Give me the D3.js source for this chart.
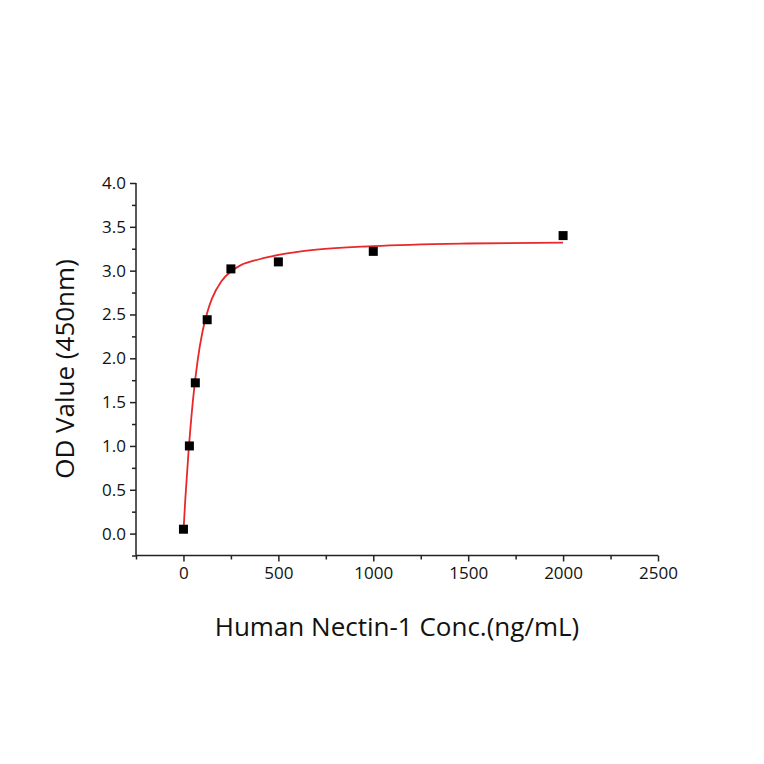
<!DOCTYPE html><html><head><meta charset="utf-8"><script src="https://cdn.jsdelivr.net/npm/d3@7"></script>
<style>body{margin:0;background:#fff}text{font-family:"Open Sans",sans-serif}</style></head><body><svg id="c" width="764" height="764"></svg>
<script>
const concs=[0,31.25,62.5,125,250,500,1000,2000];
const ods=[0.05,1.0,1.72,2.44,3.02,3.1,3.22,3.4];
const fitX=[0,10,25,50,75,100,125,150,200,250,300,400,500,700,1000,1500,2000];
const fitY=[0.02,0.4,0.88,1.52,1.98,2.3,2.52,2.68,2.88,2.99,3.06,3.13,3.18,3.24,3.28,3.31,3.32];
const xTicks=[0,500,1000,1500,2000,2500];
const yTicks=[0,0.5,1,1.5,2,2.5,3,3.5,4];
const svg=d3.select("#c");
const x=d3.scaleLinear().domain([-250,2500]).range([136,658]);
const y=d3.scaleLinear().domain([-0.25,4]).range([555.5,183]);
const g=svg.append("g");
const ax=g.append("g").attr("transform","translate(0,555.5)").call(d3.axisBottom(x).tickValues(xTicks).tickSize(6).tickPadding(5).tickFormat(d3.format("d")));
g.append("g").attr("transform","translate(0,555.5)").call(d3.axisBottom(x).tickValues(d3.range(-250,2500,500)).tickSize(4).tickFormat("")).select(".domain").remove();
const ay=g.append("g").attr("transform","translate(136,0)").call(d3.axisLeft(y).tickValues(yTicks).tickSize(6).tickPadding(4).tickFormat(d3.format(".1f")));
g.append("g").attr("transform","translate(136,0)").call(d3.axisLeft(y).tickValues(d3.range(-0.25,4,0.5)).tickSize(4).tickFormat("")).select(".domain").remove();
svg.selectAll(".domain").attr("stroke","#222").attr("stroke-width",1.5);
svg.selectAll(".tick line").attr("stroke","#222").attr("stroke-width",1.5);
svg.selectAll(".tick text").attr("font-size",17).attr("fill","#111").style("font-family","Open Sans");
ax.select(".domain").attr("d",`M136,0H658`);
ay.select(".domain").attr("d",`M0,183V555.5`);
g.append("path").datum(fitX.map((d,i)=>[d,fitY[i]])).attr("fill","none").attr("stroke","#e8282a").attr("stroke-width",1.8)
 .attr("d",d3.line().x(d=>x(d[0])).y(d=>y(d[1])).curve(d3.curveMonotoneX));
g.selectAll("rect.p").data(concs).join("rect").attr("x",(d)=>x(d)-4.5).attr("y",(d,i)=>y(ods[i])-4.5).attr("width",9).attr("height",9).attr("fill","#000");
svg.append("text").attr("x",397).attr("y",636).attr("text-anchor","middle").attr("font-size",26).attr("fill","#111").text("Human Nectin-1 Conc.(ng/mL)");
svg.append("text").attr("transform","translate(74,369) rotate(-90)").attr("text-anchor","middle").attr("font-size",26).attr("fill","#111").text("OD Value (450nm)");
</script></body></html>
